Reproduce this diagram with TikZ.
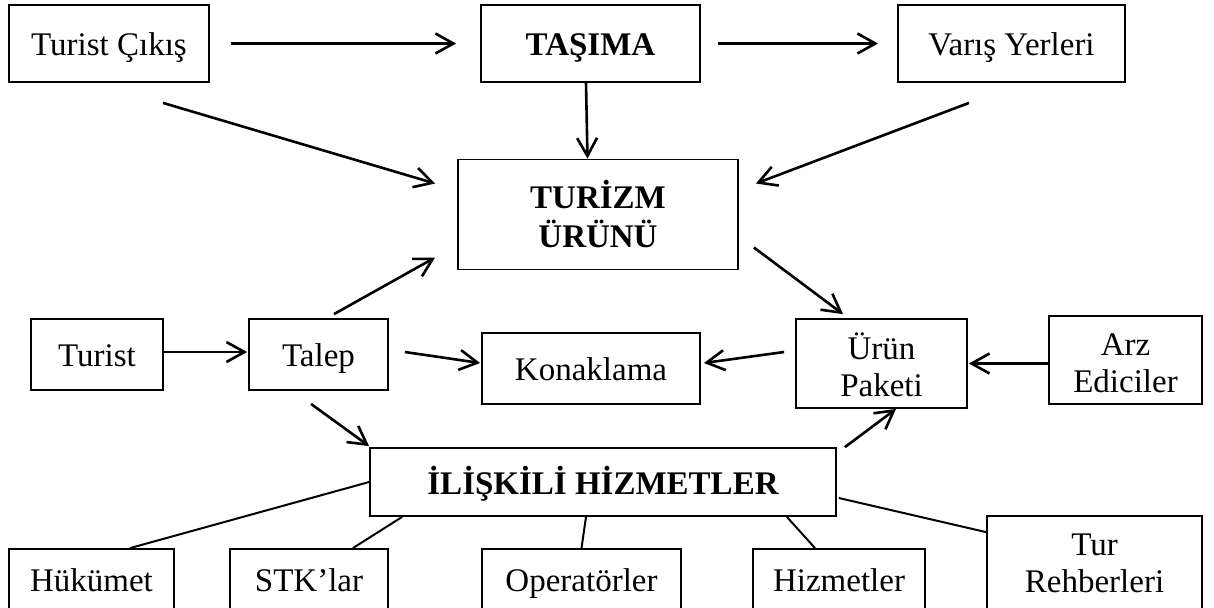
\documentclass[tikz,border=0pt]{standalone}
\usepackage{fontspec}
\setmainfont{Liberation Serif}
\usetikzlibrary{arrows.meta,calc}
\newcommand{\duoline}[3]{\vtop{\baselineskip=#3\lineskiplimit=-\maxdimen\halign{\hfil##\hfil\cr #1\cr #2\cr}}}
\begin{document}
\begin{tikzpicture}[x=0.5pt,y=-0.5pt,
  font=\fontsize{16.5}{18.7}\selectfont,
  box/.style={draw=black, line width=0.9pt, inner sep=0pt, text height=12pt, text depth=0pt},
  boldbox/.style={box, font=\fontsize{16.5}{18.7}\selectfont\bfseries},
  arr/.style={line width=1.3pt, -{Straight Barb[length=9pt,width=10pt]}},
  lnk/.style={line width=1pt}]
\useasboundingbox (0,0) rectangle (1214,607);
% top row
\node[box, minimum width=100pt, minimum height=38.5pt] (tc) at (109,43.5) {Turist Çıkış};
\node[boldbox, minimum width=109.5pt, minimum height=38.5pt] (tas) at (590.5,43.5) {TAŞIMA};
\node[box, minimum width=113.5pt, minimum height=38.5pt] (var) at (1011.5,43.5) {Varış Yerleri};
% centre
\node[boldbox, minimum width=140pt, minimum height=55pt, text depth=18.5pt] (tur) at (598,214.5) {\duoline{TURİZM}{ÜRÜNÜ}{19.7pt}};
% middle row
\node[box, minimum width=66pt, minimum height=35.5pt] (turist) at (97,354.5) {Turist};
\node[box, minimum width=69.5pt, minimum height=35.5pt] (talep) at (318.5,354.5) {Talep};
\node[box, minimum width=109pt, minimum height=35.5pt] (kon) at (591,368.5) {Konaklama};
\node[box, minimum width=85.5pt, minimum height=44.5pt, text depth=16.2pt] (urun) at (881.5,363.5) {\duoline{Ürün}{Paketi}{18.7pt}};
\node[box, minimum width=76.5pt, minimum height=44pt, text depth=17pt] (arz) at (1125.5,360) {\duoline{Arz}{Ediciler}{18.7pt}};
% related services
\node[boldbox, minimum width=233pt, minimum height=34pt] (ili) at (603,482) {İLİŞKİLİ HİZMETLER};
% bottom row
\node[box, minimum width=82.5pt, minimum height=30pt] (huk) at (91.5,579) {Hükümet};
\node[box, minimum width=79pt, minimum height=30pt] (stk) at (309,579) {STK’lar};
\node[box, minimum width=99.5pt, minimum height=30pt] (ope) at (581.5,579) {Operatörler};
\node[box, minimum width=86pt, minimum height=30pt] (hiz) at (839,579) {Hizmetler};
\node[box, minimum width=107.5pt, minimum height=46.5pt, text depth=19.5pt] (rehb) at (1094.5,562.5) {\duoline{Tur}{Rehberleri}{18.7pt}};
% arrows
\draw[arr] ($(tc.east)+(21,0)$) -- ($(tas.west)+(-24,0)$);
\draw[arr] ($(tas.east)+(17,0)$) -- ($(var.west)+(-19,0)$);
\draw[arr] ($(tas.south)+(-4.5,0)$) -- ($(tur.north)+(-10.5,0)$);
\draw[arr] ($(tc.south)+(54,20)$) -- ($(tur.west)+(-22,-31)$);
\draw[arr] ($(var.south)+(-42.5,20)$) -- ($(tur.east)+(17,-31)$);
\draw[arr] ($(talep.north)+(15.5,-4)$) -- ($(tur.west)+(-22,43)$);
\draw[arr] ($(tur.east)+(15,33)$) -- ($(urun.north)+(-38.5,-4)$);
\draw[arr] ($(turist.east)+(0,-2.5)$) -- ($(talep.west)+(-1,-2.5)$);
\draw[arr] ($(talep.east)+(16,-2.5)$) -- ($(kon.west)+(-1,-5.5)$);
\draw[arr] ($(urun.west)+(-11,-11.5)$) -- ($(kon.east)+(3,-5.5)$);
\draw[arr] ($(arz.west)+(0,3.5)$) -- ($(urun.east)+(1,0)$);
\draw[arr] ($(talep.south)+(-7.5,13)$) -- ($(ili.north west)+(0,-1)$);
\draw[arr] ($(ili.north east)+(8,0)$) -- ($(urun.south)+(14.5,0)$);
% plain links
\draw[lnk] (ili.west) -- ($(huk.north)+(38.5,0)$);
\draw[lnk] ($(ili.south west)+(33,0)$) -- ($(stk.north east)+(-36,0)$);
\draw[lnk] ($(ili.south)+(-17,0)$) -- (ope.north);
\draw[lnk] ($(ili.south east)+(-50,0)$) -- ($(hiz.north)+(-24,0)$);
\draw[lnk] ($(ili.east)+(2,16)$) -- ($(rehb.north west)+(0,17)$);
\end{tikzpicture}
\end{document}
